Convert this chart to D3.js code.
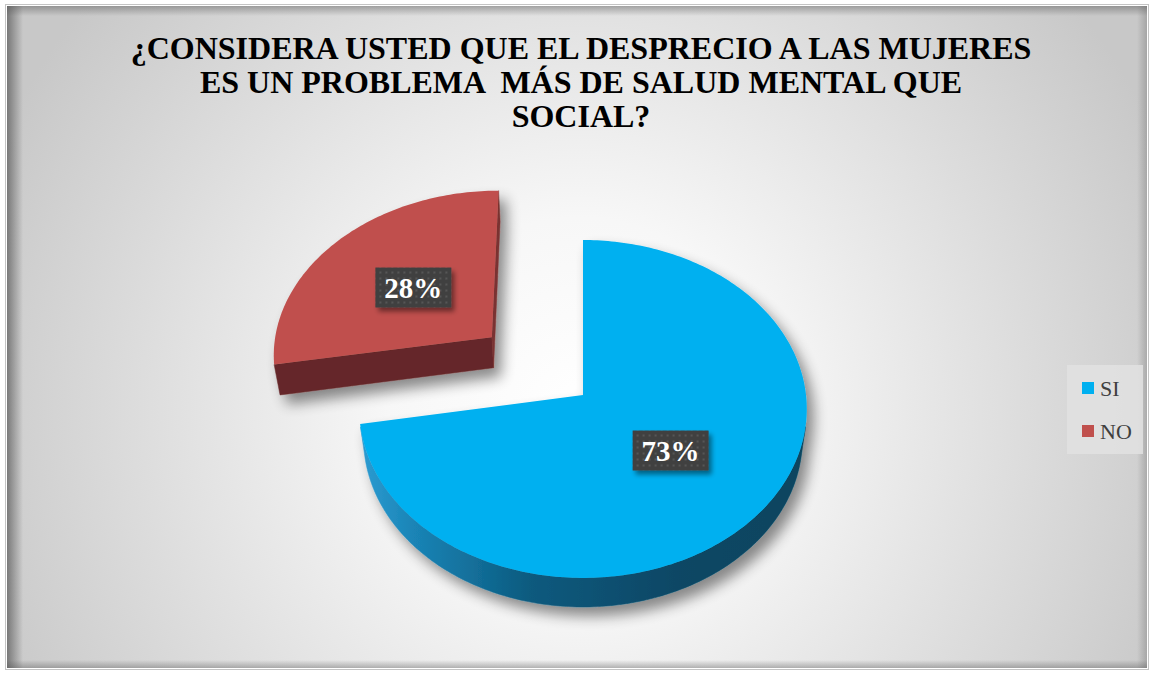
<!DOCTYPE html>
<html>
<head>
<meta charset="utf-8">
<script src="https://cdn.jsdelivr.net/npm/d3@7"></script>
<style>
  body { margin: 0; background: #fff; }
</style>
</head>
<body>
<svg id="chart"></svg>
<script>
// data
const categories = ["SI", "NO"];
const percents = [73, 28];
const sliceColors = ["#00B0F0", "#C0504D"];
const explodeBy = [0, 0.55];
const titleLines = [
  "¿CONSIDERA USTED QUE EL DESPRECIO A LAS MUJERES",
  "ES UN PROBLEMA  MÁS DE SALUD MENTAL QUE",
  "SOCIAL?"
];

var W = 1153, H = 673;
var svg = d3.select("#chart").attr("width", W).attr("height", H);
var defs = svg.append("defs");

// background gradient
var bg = defs.append("radialGradient").attr("id", "bg")
  .attr("gradientUnits", "userSpaceOnUse")
  .attr("cx", 580).attr("cy", 410).attr("r", 640);
[[0, "#ffffff"], [0.3, "#f7f7f7"], [0.7, "#dcdcdc"], [1, "#c8c8c8"]].forEach(s =>
  bg.append("stop").attr("offset", s[0]).attr("stop-color", s[1]));

function edgeGrad(id, x1, y1, x2, y2, op) {
  var g = defs.append("linearGradient").attr("id", id)
    .attr("x1", x1).attr("y1", y1).attr("x2", x2).attr("y2", y2);
  g.append("stop").attr("offset", 0).attr("stop-color", "#555").attr("stop-opacity", op);
  g.append("stop").attr("offset", 1).attr("stop-color", "#555").attr("stop-opacity", 0);
}
edgeGrad("eL", 0, 0, 1, 0, 0.7);
edgeGrad("eT", 0, 0, 0, 1, 0.45);
edgeGrad("eR", 1, 0, 0, 0, 0.3);
edgeGrad("eB", 0, 1, 0, 0, 0.4);

var side = defs.append("linearGradient").attr("id", "blueSide")
  .attr("gradientUnits", "userSpaceOnUse")
  .attr("x1", 360).attr("y1", 0).attr("x2", 810).attr("y2", 0);
[[0, "#2c9cd2"], [0.12, "#1a84b6"], [0.38, "#0b5a7e"], [0.7, "#074765"], [1, "#07445f"]].forEach(s =>
  side.append("stop").attr("offset", s[0]).attr("stop-color", s[1]));

var sh = defs.append("filter").attr("id", "pieShadow")
  .attr("x", "-20%").attr("y", "-20%").attr("width", "140%").attr("height", "140%");
sh.append("feGaussianBlur").attr("in", "SourceAlpha").attr("stdDeviation", 7);
sh.append("feOffset").attr("dx", 7).attr("dy", 9).attr("result", "b");
sh.append("feComponentTransfer").append("feFuncA").attr("type", "linear").attr("slope", 0.45);
var m = sh.append("feMerge");
m.append("feMergeNode");
m.append("feMergeNode").attr("in", "SourceGraphic");

var lsh = defs.append("filter").attr("id", "lblShadow")
  .attr("x", "-20%").attr("y", "-20%").attr("width", "150%").attr("height", "160%");
lsh.append("feGaussianBlur").attr("in", "SourceAlpha").attr("stdDeviation", 2.5);
lsh.append("feOffset").attr("dx", 3).attr("dy", 4);
lsh.append("feComponentTransfer").append("feFuncA").attr("type", "linear").attr("slope", 0.45);
var m2 = lsh.append("feMerge");
m2.append("feMergeNode");
m2.append("feMergeNode").attr("in", "SourceGraphic");

var pat = defs.append("pattern").attr("id", "dots")
  .attr("patternUnits", "userSpaceOnUse").attr("width", 6).attr("height", 6);
pat.append("rect").attr("width", 6).attr("height", 6).attr("fill", "#404040");
pat.append("rect").attr("x", 2).attr("y", 2).attr("width", 2).attr("height", 2).attr("fill", "#575757");

// frame
var fx = 7, fy = 6, fw = 1140, fh = 662;
svg.append("rect").attr("x", fx - 1.5).attr("y", fy - 1.5).attr("width", fw + 3).attr("height", fh + 3)
  .attr("fill", "none").attr("stroke", "#c4c4c4");
svg.append("rect").attr("x", fx).attr("y", fy).attr("width", fw).attr("height", fh).attr("fill", "url(#bg)");
svg.append("rect").attr("x", fx).attr("y", fy).attr("width", 16).attr("height", fh).attr("fill", "url(#eL)");
svg.append("rect").attr("x", fx).attr("y", fy).attr("width", fw).attr("height", 10).attr("fill", "url(#eT)");
svg.append("rect").attr("x", fx + fw - 10).attr("y", fy).attr("width", 10).attr("height", fh).attr("fill", "url(#eR)");
svg.append("rect").attr("x", fx).attr("y", fy + fh - 8).attr("width", fw).attr("height", 8).attr("fill", "url(#eB)");

// title
svg.append("text")
  .attr("x", 581).attr("y", 59)
  .attr("text-anchor", "middle")
  .style("font-family", "'Liberation Serif', 'Times New Roman', serif")
  .style("font-weight", "bold")
  .style("font-size", "32px")
  .style("white-space", "pre")
  .attr("fill", "#000")
  .selectAll("tspan")
  .data(titleLines)
  .join("tspan")
  .attr("x", 581)
  .attr("dy", (d, i) => i === 0 ? 0 : 34)
  .text(d => d);

// 3d pie: disk in the y=0 plane, camera tilted and with perspective
var cx = 583, cy = 395, k = 223, tilt = 48.8 * Math.PI / 180, f = 7.97, thick = 0.21;
var ca = Math.cos(tilt), sa = Math.sin(tilt);
var cam = [0, f * sa, -f * ca];

function proj(p) {
  var yc = p[1] * ca + p[2] * sa, zc = -p[1] * sa + p[2] * ca;
  var s = f / (f + zc);
  return [cx + k * p[0] * s, cy - k * yc * s];
}
function facing(n, p) {
  return n[0] * (cam[0] - p[0]) + n[1] * (cam[1] - p[1]) + n[2] * (cam[2] - p[2]) > 0;
}

var arcs = d3.pie().sort(null).value(d => d)(percents);
var line = d3.line();
var pieG = svg.append("g").attr("filter", "url(#pieShadow)");

var slices = arcs.map((a, i) => {
  var mid = (a.startAngle + a.endAngle) / 2;
  var ox = explodeBy[i] * Math.sin(mid), oz = explodeBy[i] * Math.cos(mid);
  var P = (t, r, y) => [ox + r * Math.sin(t), y, oz + r * Math.cos(t)];
  return { a: a, i: i, mid: mid, P: P, depth: oz };
});

// farther slice first
slices.slice().sort((u, v) => v.depth - u.depth).forEach(sl => {
  var a = sl.a, P = sl.P, i = sl.i;
  var n = Math.max(2, Math.ceil((a.endAngle - a.startAngle) / (Math.PI / 180)));
  var ts = d3.range(n + 1).map(j => a.startAngle + (a.endAngle - a.startAngle) * j / n);
  var g = pieG.append("g");
  var dark = i === 0 ? "url(#blueSide)" : "#652729";

  // radial faces
  var a0 = a.startAngle, a1 = a.endAngle;
  var faces = [
    { t: a0, n: [-Math.cos(a0), 0, Math.sin(a0)], c: i === 0 ? "#1a84b6" : "#652729" },
    { t: a1, n: [Math.cos(a1), 0, -Math.sin(a1)], c: i === 0 ? "#0b5a7e" : "#7a3330" }
  ];
  faces.forEach(fc => {
    var pm = P(fc.t, 0.5, -thick / 2);
    if (!facing(fc.n, pm)) return;
    var pts = [P(fc.t, 0, 0), P(fc.t, 1, 0), P(fc.t, 1, -thick), P(fc.t, 0, -thick)].map(proj);
    g.append("path").attr("d", line(pts) + "Z").attr("fill", fc.c)
      .attr("stroke", fc.c).attr("stroke-width", 0.5);
  });

  // outer curved side, visible runs only
  var runs = [], cur = null;
  for (var j = 0; j < n; j++) {
    var tm = (ts[j] + ts[j + 1]) / 2;
    var vis = facing([Math.sin(tm), 0, Math.cos(tm)], P(tm, 1, -thick / 2));
    if (vis) {
      if (!cur) { cur = [ts[j]]; runs.push(cur); }
      cur.push(ts[j + 1]);
    } else cur = null;
  }
  runs.forEach(r => {
    var top = r.map(t => proj(P(t, 1, 0)));
    var bot = r.map(t => proj(P(t, 1, -thick))).reverse();
    g.append("path").attr("d", line(top.concat(bot)) + "Z")
      .attr("fill", i === 0 ? dark : "#6b2a2a")
      .attr("stroke", i === 0 ? dark : "#6b2a2a").attr("stroke-width", 0.5);
  });

  // top face
  var topPts = [proj(P(0, 0, 0))].concat(ts.map(t => proj(P(t, 1, 0))));
  g.append("path").attr("d", line(topPts) + "Z").attr("fill", sliceColors[i]);
});

// data labels
var lbl = svg.append("g");
slices.forEach(sl => {
  var c = proj(sl.P(sl.mid, 0.5, 0));
  var g = lbl.append("g").attr("transform", `translate(${c[0]},${c[1]})`);
  g.append("rect").attr("x", -38).attr("y", -20).attr("width", 76).attr("height", 40)
    .attr("fill", "url(#dots)").attr("filter", "url(#lblShadow)");
  g.append("text").attr("text-anchor", "middle").attr("y", 10)
    .style("font-family", "'Liberation Serif', 'Times New Roman', serif")
    .style("font-weight", "bold").style("font-size", "29px")
    .attr("fill", "#fff")
    .text(percents[sl.i] + "%");
});

// legend
var leg = svg.append("g").attr("transform", "translate(1067,365)");
leg.append("rect").attr("width", 76).attr("height", 89).attr("fill", "#e2e2e2").attr("opacity", 0.85);
var yLeg = d3.scalePoint().domain(categories).range([23, 66]);
var item = leg.selectAll(".item").data(categories).join("g")
  .attr("class", "item")
  .attr("transform", d => `translate(15,${yLeg(d)})`);
item.append("rect").attr("y", -6).attr("width", 12).attr("height", 12)
  .attr("fill", (d, i) => sliceColors[i]);
item.append("text").attr("x", 18).attr("y", 8)
  .style("font-family", "'Liberation Serif', 'Times New Roman', serif")
  .style("font-size", "22px")
  .attr("fill", "#404040")
  .text(d => d);
</script>
</body>
</html>
